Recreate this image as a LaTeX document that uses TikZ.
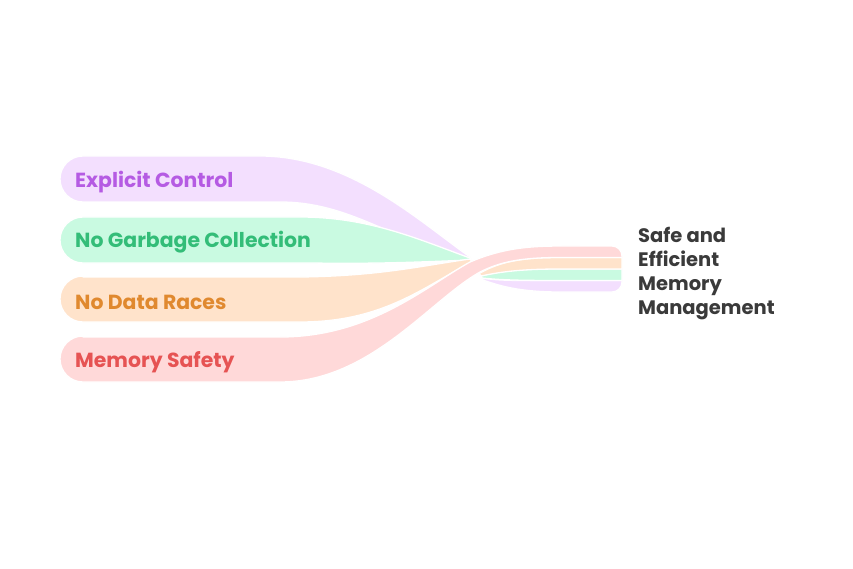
\documentclass[tikz,border=0pt]{standalone}
\usepackage{fontspec}
\setmainfont{Poppins}
\usetikzlibrary{positioning}

\definecolor{ctrlfill}{HTML}{F3DFFE}
\definecolor{ctrltext}{HTML}{B55BE3}
\definecolor{gcfill}{HTML}{C9FAE1}
\definecolor{gctext}{HTML}{33BD78}
\definecolor{racefill}{HTML}{FFE3CB}
\definecolor{racetext}{HTML}{E0892F}
\definecolor{safefill}{HTML}{FFD9D9}
\definecolor{safetext}{HTML}{E65353}
\definecolor{roottext}{HTML}{3A3A3A}

\tikzset{
  band/.style={draw=white,line width=1.3pt,line join=round},
  lbl/.style={anchor=west,inner sep=0pt,font=\bfseries\fontsize{20.4}{20.4}\selectfont}
}

\begin{document}
\begin{tikzpicture}[x=1pt,y=-1pt]
        \useasboundingbox (0,0) rectangle (853,569);

        \coordinate (neckL) at (470,259);
        \coordinate (neckR) at (482,277);

        % Explicit Control
        \draw[band,fill=ctrlfill] (83,156) -- (260,156) .. controls (350,156) and (420,222) .. (470,257)
          -- (482,278) .. controls (500,281) and (520,280.5) .. (560,280.5) -- (622,280.5) -- (622,282)
          arc[start angle=0,end angle=90,radius=10] -- (560,292) .. controls (520,292) and (500,286) .. (483,280)
          -- (470,260) .. controls (390,240) and (350,202) .. (280,202) -- (83,202)
          arc[start angle=90,end angle=270,radius=23] -- cycle;

        % No Garbage Collection
        \draw[band,fill=gcfill] (83,217) -- (300,217) .. controls (370,217) and (420,240) .. (470,258)
          -- (481,276) .. controls (505,270) and (520,269) .. (560,269) -- (622,269) -- (622,280.5)
          -- (560,280.5) .. controls (520,280.5) and (500,280) .. (482,278)
          -- (470,260) .. controls (420,262) and (380,264) .. (310,263) -- (83,263)
          arc[start angle=90,end angle=270,radius=23] -- cycle;

        % No Data Races
        \draw[band,fill=racefill] (83,277) -- (300,277) .. controls (380,276) and (420,266) .. (470,259)
          -- (480,273) .. controls (500,262) and (520,257.5) .. (560,257.5) -- (622,257.5) -- (622,269)
          -- (560,269) .. controls (520,269) and (500,272) .. (481,276)
          -- (471,262) .. controls (420,290) and (380,322) .. (300,322) -- (83,322)
          arc[start angle=90,end angle=270,radius=23] -- cycle;

        % Memory Safety
        \draw[band,fill=safefill] (83,337) -- (280,337) .. controls (370,337) and (425,287) .. (470,262)
          .. controls (510,245) and (540,246) .. (580,246) -- (612,246)
          arc[start angle=270,end angle=360,radius=10] -- (622,257.5) -- (560,257.5)
          .. controls (520,257.5) and (500,262) .. (480,272) .. controls (430,300) and (370,382) .. (280,382)
          -- (83,382) arc[start angle=90,end angle=270,radius=23] -- cycle;

        \node[lbl,text=ctrltext] (explicit) at (75,182.5) {Explicit Control};
        \node[lbl,text=gctext] (nogc) at (75,242.5) {No Garbage Collection};
        \node[lbl,text=racetext] (races) at (75,302.5) {No Data Races};
        \node[lbl,text=safetext] (safety) at (75,362.5) {Memory Safety};

        \node[anchor=north west,inner sep=0pt,align=left,text=roottext,
          font=\bfseries\fontsize{19.5}{24}\selectfont] (root) at (638,227) {Safe and\\Efficient\\Memory\\Management};
      \end{tikzpicture}
\end{document}
